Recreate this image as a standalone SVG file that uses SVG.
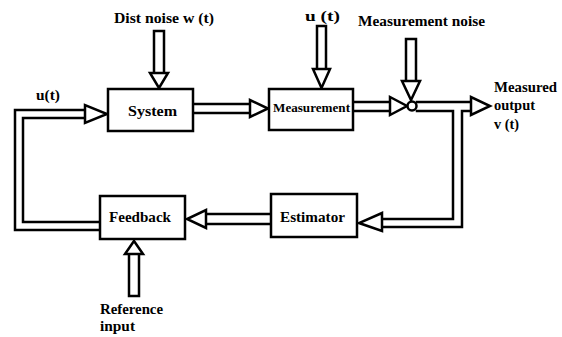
<svg xmlns="http://www.w3.org/2000/svg" width="562" height="337" viewBox="0 0 562 337" font-family="'Liberation Serif', 'DejaVu Serif', serif">
  <style>
    .box { fill: #fff; stroke: #000; stroke-width: 2.5; }
    .ln { fill: none; stroke: #000; stroke-width: 2.5; stroke-linecap: square; }
    .head { fill: #fff; stroke: #000; stroke-width: 2.5; stroke-linejoin: miter; }
    .t { font-weight: bold; font-size: 14px; fill: #000; }
    .sm { font-size: 13px; }
  </style>
  <rect width="562" height="337" fill="#fff"/>

  <!-- double-line connectors with hollow heads -->
  <g id="connectors">
    <!-- disturbance noise into System -->
    <path class="ln" d="M154,31 V73 M164,31 V73 M154,31 H164"/>
    <polygon class="head" points="150,73 168,73 159,88"/>

    <!-- u(t) into Measurement -->
    <path class="ln" d="M317,26 V69 M326,26 V69 M317,26 H326"/>
    <polygon class="head" points="313,69 330,69 321.5,88"/>

    <!-- measurement noise into the summing junction -->
    <path class="ln" d="M406,39 V81 M416,39 V81 M406,39 H416"/>
    <polygon class="head" points="402,81 420,81 411,100"/>

    <!-- System to Measurement -->
    <path class="ln" d="M194,104 H250 M194,113 H250"/>
    <polygon class="head" points="250,100 250,117 268,108.5"/>

    <!-- Measurement to junction -->
    <path class="ln" d="M354,102 H390 M354,111 H390"/>
    <polygon class="head" points="390,97 390,115 407,106"/>

    <!-- junction to measured output, with branch down to Estimator -->
    <path class="ln" d="M417,102 H471 M417,111 H453 V219 H382 M462,111 H471 M462,111 V227 H382"/>
    <polygon class="head" points="471,97 471,115 490,106"/>
    <polygon class="head" points="382,213 382,231 359,223"/>

    <!-- Estimator to Feedback -->
    <path class="ln" d="M270,214 H206 M270,224 H206"/>
    <polygon class="head" points="206,210 206,228 187,219"/>

    <!-- Feedback loop back to System: u(t) -->
    <path class="ln" d="M100,222 H23 V118 H85 M100,230 H15 V110 H85"/>
    <polygon class="head" points="85,105 85,123 107,114"/>

    <!-- reference input into Feedback -->
    <path class="ln" d="M129,254 V296 H139 V254"/>
    <polygon class="head" points="125,254 143,254 134,241"/>
  </g>

  <g id="junction">
    <circle cx="412" cy="106" r="4.5" fill="#fff" stroke="#000" stroke-width="2.5"/>
  </g>

  <g id="system">
    <rect class="box" x="108" y="89" width="85" height="42"/>
    <text class="t" font-family="Liberation Serif, serif" x="128" y="116" textLength="49" lengthAdjust="spacingAndGlyphs">System</text>
  </g>

  <g id="measurement">
    <rect class="box" x="269" y="89" width="84" height="41"/>
    <text class="t sm" font-family="Liberation Serif, serif" x="273" y="112" textLength="77" lengthAdjust="spacingAndGlyphs">Measurement</text>
  </g>

  <g id="estimator">
    <rect class="box" x="271" y="194" width="86" height="43"/>
    <text class="t" font-family="Liberation Serif, serif" x="280" y="222" textLength="65" lengthAdjust="spacingAndGlyphs">Estimator</text>
  </g>

  <g id="feedback">
    <rect class="box" x="100" y="196" width="85" height="43"/>
    <text class="t" font-family="Liberation Serif, serif" x="109" y="222" textLength="62" lengthAdjust="spacingAndGlyphs">Feedback</text>
  </g>

  <g id="labels" font-family="Liberation Serif, serif">
    <text class="t" x="114" y="23" textLength="100" lengthAdjust="spacingAndGlyphs">Dist noise w (t)</text>
    <text class="t" x="305" y="21" textLength="35" lengthAdjust="spacingAndGlyphs">u (t)</text>
    <text class="t" x="358" y="26" textLength="127" lengthAdjust="spacingAndGlyphs">Measurement noise</text>
    <text class="t" x="36" y="100" textLength="24" lengthAdjust="spacingAndGlyphs">u(t)</text>
    <text class="t" x="494" y="92" textLength="63" lengthAdjust="spacingAndGlyphs">Measured</text>
    <text class="t" x="494" y="110" textLength="41" lengthAdjust="spacingAndGlyphs">output</text>
    <text class="t" x="494" y="129" textLength="25" lengthAdjust="spacingAndGlyphs">v (t)</text>
    <text class="t" x="100" y="314" textLength="63" lengthAdjust="spacingAndGlyphs">Reference</text>
    <text class="t" x="100" y="331" textLength="35" lengthAdjust="spacingAndGlyphs">input</text>
  </g>
</svg>
